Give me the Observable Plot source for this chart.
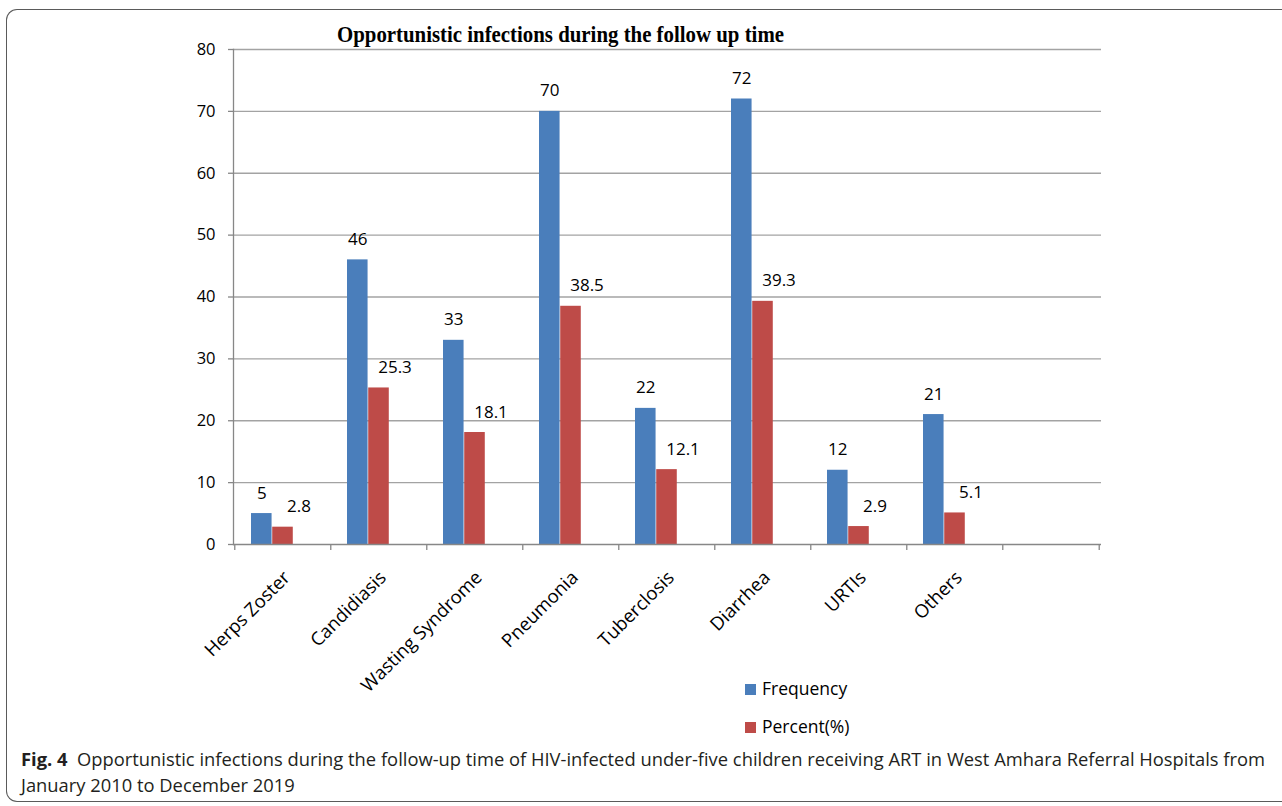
<!DOCTYPE html>
<html>
<head>
<meta charset="utf-8">
<script src="https://cdn.jsdelivr.net/npm/d3@7"></script>
<script src="https://cdn.jsdelivr.net/npm/@observablehq/plot@0.6"></script>
<style>
  html, body { margin: 0; padding: 0; background: #fff; overflow: hidden; }
  #page { position: relative; width: 1282px; height: 806px; overflow: hidden; background: #fff; }
  #frame { position: absolute; left: 6px; top: 9px; width: 1400px; height: 793px; border: 1.3px solid #5a5a5a; border-right: none; border-radius: 11px 0 0 11px; box-sizing: border-box; }
  #chart { position: absolute; left: 0; top: 0; }
  #title { position: absolute; left: 337px; top: 23px; font-family: "Liberation Serif", serif; font-weight: bold; font-size: 23px; line-height: 23px; white-space: nowrap; color: #000; transform-origin: 0 50%; }
  .leg { position: absolute; left: 745px; font-family: "Open Sans", sans-serif; font-size: 17.5px; line-height: 17.5px; color: #000; white-space: nowrap; }
  .leg .sw { display: inline-block; width: 11px; height: 11px; margin-right: 6px; vertical-align: 0px; }
  .cap { position: absolute; left: 21px; font-family: "Open Sans", sans-serif; font-size: 18.5px; line-height: 18.5px; color: #231f20; white-space: nowrap; transform-origin: 0 50%; }
  .cap b { font-weight: 700; }
</style>
</head>
<body>
<div id="page">
  <div id="frame"></div>
  <div id="chart"></div>
  <div id="title">Opportunistic infections during the follow up time</div>
  <div class="leg" id="leg1" style="top:680px"><span class="sw" style="background:#4a7ebb"></span>Frequency</div>
  <div class="leg" id="leg2" style="top:718px"><span class="sw" style="background:#be4b48"></span>Percent(%)</div>
  <div class="cap" id="cap1" style="top:750px"><b>Fig. 4</b>&nbsp; Opportunistic infections during the follow-up time of HIV-infected under-five children receiving ART in West Amhara Referral Hospitals from</div>
  <div class="cap" id="cap2" style="top:776px">January 2010 to December 2019</div>
</div>
<script>
// ---- data ----
const categories = ["Herps Zoster", "Candidiasis", "Wasting Syndrome", "Pneumonia", "Tuberclosis", "Diarrhea", "URTIs", "Others"];
const frequency = [5, 46, 33, 70, 22, 72, 12, 21];
const percent = [2.8, 25.3, 18.1, 38.5, 12.1, 39.3, 2.9, 5.1];
const yTicks = [0, 10, 20, 30, 40, 50, 60, 70, 80];
const slots = [...categories, ""]; // Excel axis has one extra empty category slot
const seriesNames = ["Frequency", "Percent(%)"];
const seriesColors = ["#4a7ebb", "#be4b48"];

const freqData = categories.map((c, i) => ({category: c, value: frequency[i]}));
const pctData = categories.map((c, i) => ({category: c, value: percent[i]}));

// ---- layout ----
const W = 1282, H = 700;
const mL = 233, mR = 181, mT = 49, mB = H - 544;
const pad = 0.34;
const step = (W - mL - mR) / slots.length;
const bw = step * (1 - pad);
const axisGray = "#878787";
const gridGray = "#a3a3a3";
const font = "'Open Sans', sans-serif";

const chart = Plot.plot({
  width: W,
  height: H,
  marginLeft: mL,
  marginRight: mR,
  marginTop: mT,
  marginBottom: mB,
  style: {fontFamily: font, fontSize: "17px", color: "#000", background: "transparent"},
  x: {domain: slots, paddingInner: pad, paddingOuter: pad / 2, axis: null, label: null},
  y: {domain: [0, 80], axis: null, label: null},
  marks: [
    Plot.ruleY(yTicks.filter(d => d > 0), {stroke: gridGray, strokeWidth: 1.3}),
    Plot.frame({anchor: "left", stroke: axisGray, strokeWidth: 1.3}),
    Plot.axisY(yTicks, {tickSize: 5, tickPadding: 13, stroke: axisGray, fontSize: 16.5, fill: "#000", strokeWidth: 1.3, label: null}),
    Plot.barY(freqData, {x: "category", y: "value", fill: seriesColors[0], insetLeft: 0, insetRight: bw * 2 / 3}),
    Plot.barY(pctData, {x: "category", y: "value", fill: seriesColors[1], insetLeft: bw / 3, insetRight: bw / 3}),
    Plot.ruleY([0], {stroke: axisGray, strokeWidth: 1.6}),
    Plot.axisX(slots, {tickSize: 6, dx: -step / 2, tickFormat: () => "", stroke: axisGray, strokeWidth: 1.3, label: null}),
    Plot.axisX([slots[slots.length - 1]], {tickSize: 6, dx: step / 2, tickFormat: () => "", stroke: axisGray, strokeWidth: 1.3, label: null}),
    Plot.axisX(categories, {tickSize: 0, tickPadding: 30, tickRotate: -45, dx: 4, fontSize: 18.5, fill: "#000", label: null}),
    Plot.text(freqData, {x: "category", y: "value", text: d => String(d.value), dx: -bw / 3, dy: -15, lineAnchor: "bottom", fontSize: 17, fill: "#000"}),
    Plot.text(pctData, {x: "category", y: "value", text: d => d.value.toFixed(1), dx: 16, dy: -15, lineAnchor: "bottom", fontSize: 17, fill: "#000"})
  ]
});
document.getElementById("chart").appendChild(chart);

// fit title and caption widths to the reference's condensed fonts
function fit(el, target) {
  const w = el.getBoundingClientRect().width;
  const s = target / w;
  el.style.transform = `scaleX(${s})`;
  return s;
}
fit(document.getElementById("title"), 447);
const s = fit(document.getElementById("cap1"), 1244);
document.getElementById("cap2").style.transform = `scaleX(${s})`;
</script>
</body>
</html>
